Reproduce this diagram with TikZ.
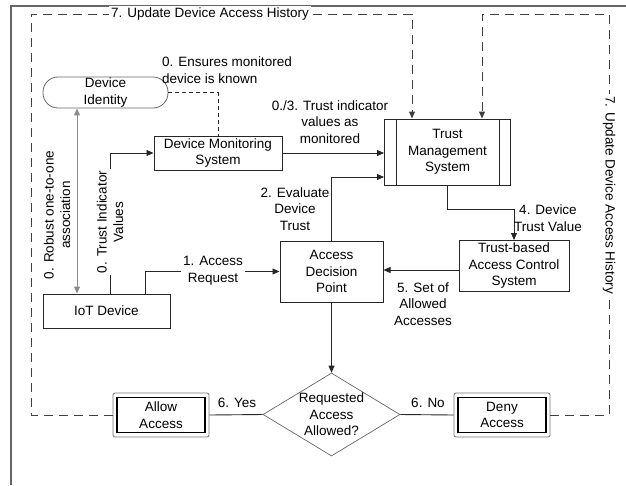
\documentclass[tikz,border=0pt]{standalone}
\usepackage{fontspec}
\setmainfont{Liberation Sans}
\usetikzlibrary{arrows.meta,shapes.geometric}
\begin{document}
\begin{tikzpicture}[x=1pt,y=-1pt,
  every node/.style={font=\fontsize{13.5}{16.5}\selectfont, align=center, inner sep=0pt},
  box/.style={draw=black!85, line width=1pt, rectangle},
  lbl/.style={fill=white, inner sep=2pt},
  con/.style={draw=black!85, line width=0.9pt},
  arr/.style={con, -{Triangle[length=7pt,width=6pt]}},
  hist/.style={draw=black!75, line width=1pt, dash pattern=on 9pt off 6pt},
  dbl/.style={box, line width=1.3pt, draw=black},
  outer/.style={draw=black!55, line width=0.8pt, rounded corners=2pt, rectangle, inner sep=0pt}
]
\useasboundingbox (0,0) rectangle (626,485);
% frame
\draw[black!60, line width=1.2pt] (11,485) -- (11,6) -- (626,6);

% nodes
\node[draw=black!60, line width=0.8pt, rounded corners=15pt, minimum width=125pt, minimum height=31pt] (di) at (105.5,92.5) {Device\\Identity};
\node[box, minimum width=128pt, minimum height=34pt] (dms) at (218,153) {Device Monitoring\\System};
\node[box, minimum width=126pt, minimum height=66pt] (tms) at (447.5,152) {Trust\\Management\\System};
\draw[black!85, line width=1pt] ([xshift=12pt]tms.north west) -- ([xshift=12pt]tms.south west);
\draw[black!85, line width=1pt] ([xshift=-12pt]tms.north east) -- ([xshift=-12pt]tms.south east);
\node[box, minimum width=103pt, minimum height=61pt] (adp) at (331.5,271.5) {Access\\Decision\\Point};
\node[box, minimum width=110pt, minimum height=51pt] (tacs) at (514,266) {Trust-based\\Access Control\\System};
\node[box, minimum width=127pt, minimum height=34pt] (iot) at (106.5,311) {IoT Device};
\node[diamond, draw=black!60, line width=0.7pt, aspect=1.65, minimum width=137pt, minimum height=83pt] (dec) at (331.5,414.5) {Requested\\Access\\Allowed?};
\node[outer, minimum width=96pt, minimum height=44pt] (allowo) at (161,415) {};
\node[dbl, minimum width=88pt, minimum height=35pt] (allow) at (161,415) {Allow\\Access};
\node[outer, minimum width=96pt, minimum height=44pt] (denyo) at (502,415) {};
\node[dbl, minimum width=88pt, minimum height=35pt] (deny) at (502,415) {Deny\\Access};

% helper coordinates
\coordinate (ax) at (77,0);
\coordinate (tix) at (110,0);
\coordinate (arx) at (145,0);
\coordinate (ev) at (0,177);
\coordinate (sy) at (0,270);
\coordinate (a1) at (412,0);
\coordinate (a2) at (482,0);
\coordinate (tl) at (31,14);
\coordinate (tr) at (609,14);

% connectors
\draw[draw=black!45, line width=1pt, {Triangle[length=7pt,width=6pt]}-{Triangle[length=7pt,width=6pt]}] (ax |- di.south) -- (ax |- iot.north);
\draw[draw=black!85, line width=1pt, dash pattern=on 4pt off 3pt] (di.east) -| (dms.north);
\draw[arr] (tix |- iot.north) -- (tix |- dms.west) -- (dms.west);
\draw[arr] (arx |- iot.north) -- (arx |- adp.west) -- (adp.west);
\draw[arr] (dms.east) -- (dms.east -| tms.west);
\draw[arr] (adp.north) |- (ev -| tms.west);
\draw[arr] (tms.south) -- ++(0,24) -| (tacs.north);
\draw[arr] (tacs.west |- sy) -- (adp.east |- sy);
\draw[arr] (adp.south) -- (dec.north);
\draw[con] (dec.west) -- (allowo.east);
\draw[con] (dec.east) -- (denyo.west);
\draw[hist, -{Triangle[length=7pt,width=6pt]}] (allowo.west) -| (tl) -| (a1 |- tms.north);
\draw[hist, -{Triangle[length=7pt,width=6pt]}] (denyo.east) -| (tr) -| (a2 |- tms.north);

% labels
\node[lbl] (l7a) at (210,14) {7. Update Device Access History};
\node[lbl, rotate=-90] (l7b) at (609,195) {7. Update Device Access History};
\node[align=left] (lens) at (227,70) {0. Ensures monitored\\device is known};
\node (ltiv) at (330,122) {0./3. Trust indicator\\values as\\monitored};
\node[rotate=90] (lrob) at (57,215) {0. Robust one-to-one\\association};
\node[lbl, rotate=90] (lti) at (110,222) {0. Trust Indicator\\Values};
\node[lbl] (lar) at (213,271) {1. Access\\Request};
\node (lev) at (295,209) {2. Evaluate\\Device\\Trust};
\node (ldt) at (548,218) {4. Device\\Trust Value};
\node (lset) at (423,304) {5. Set of\\Allowed\\Accesses};
\node (lyes) at (237,403) {6. Yes};
\node (lno) at (428,403) {6. No};
\end{tikzpicture}
\end{document}
